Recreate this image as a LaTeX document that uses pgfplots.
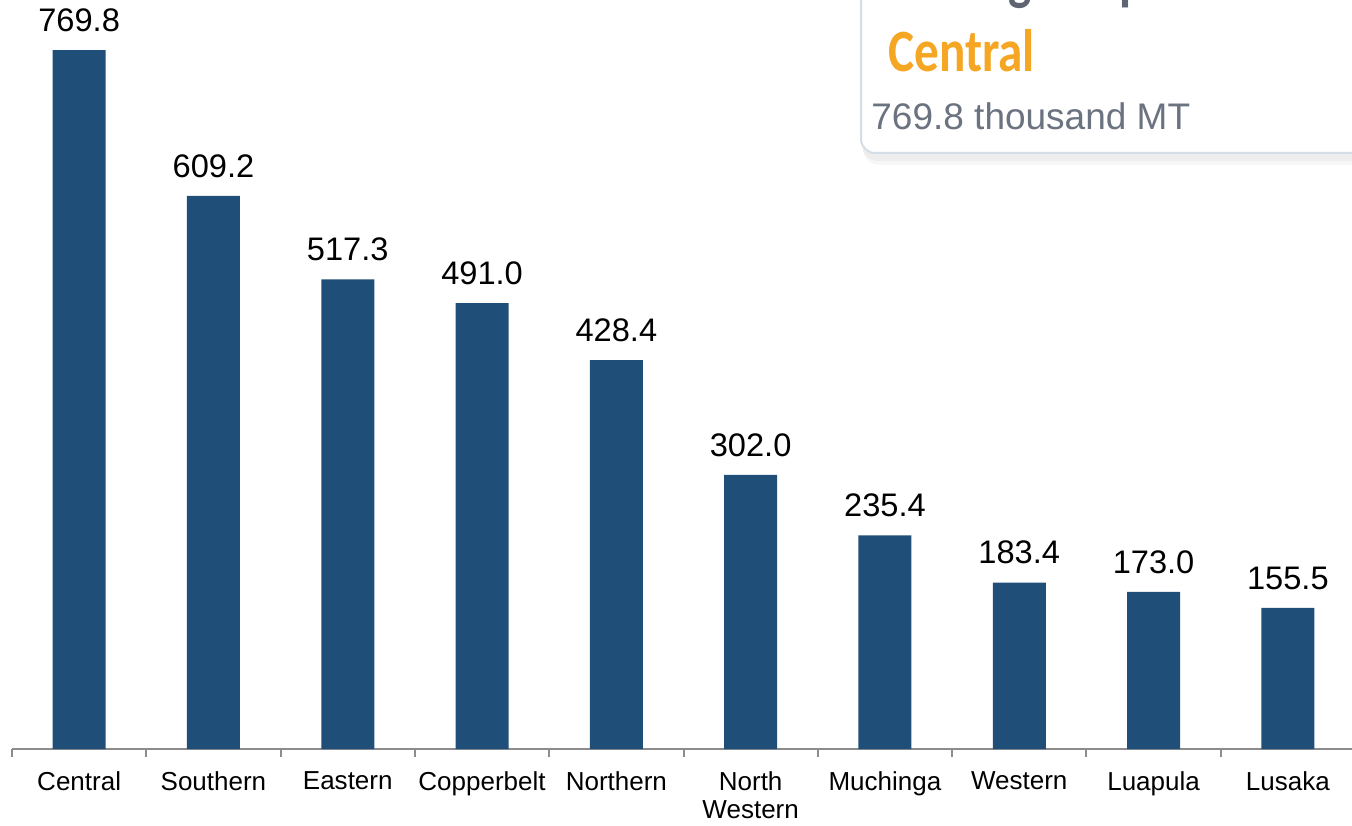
\documentclass[border=0pt]{standalone}
\usepackage{pgfplots}
\pgfplotsset{compat=1.18}
\usepackage{fontspec}
\setmainfont{Liberation Sans}
\newfontfamily\carlito{Carlito}

\definecolor{barblue}{HTML}{1F4E79}
\definecolor{axisgray}{HTML}{8C8C8C}
\definecolor{accent}{HTML}{F5A623}
\definecolor{cardtext}{HTML}{6B7280}
\definecolor{titlegray}{HTML}{5F6570}
\definecolor{cardborder}{HTML}{D5DDE8}

\begin{document}
\begin{tikzpicture}
\useasboundingbox (0,0) rectangle (676pt,412.5pt);
\clip (0,0) rectangle (676pt,412.5pt);
\begin{axis}[
  at={(6pt,38pt)}, anchor=south west,
  scale only axis, width=671.5pt, height=374.5pt,
  xmin=-0.5, xmax=9.5, ymin=0, ymax=825,
  axis x line=bottom, axis y line=none,
  x axis line style={-, draw=axisgray, line width=1pt},
  ybar, bar width=26.5pt,
  xtick={0,...,9},
  xticklabels={Central,Southern,Eastern,Copperbelt,Northern,{North\\Western},Muchinga,Western,Luapula,Lusaka},
  major x tick style={draw=none}, major tick length=0pt,
  minor xtick={-0.5,0.5,...,9.5},
  minor x tick style={draw=axisgray, line width=1pt},
  tick align=outside, minor tick length=4pt,
  xticklabel style={font=\fontsize{13}{14}\selectfont, align=center,
    text=black, inner sep=0pt, anchor=north, yshift=-11pt},
  nodes near coords,
  nodes near coords style={font=\fontsize{16.3}{17}\selectfont, text=black,
    inner sep=0pt, anchor=south, yshift=9pt,
    /pgf/number format/.cd, fixed, fixed zerofill, precision=1, assume math mode=true},
  clip=false,
]
\addplot[fill=barblue, draw=none] coordinates {
 (0,769.8) (1,609.2) (2,517.3) (3,491.0) (4,428.4)
 (5,302.0) (6,235.4) (7,183.4) (8,173.0) (9,155.5)
};
\end{axis}
\begin{scope}[x=0.5pt, y=0.5pt]
  % summary card, partly outside the picture
  \fill[black, opacity=0.03, rounded corners=8pt] (863,660) rectangle (1420,900);
  \fill[black, opacity=0.04, rounded corners=8pt] (862,664) rectangle (1420,900);
  \draw[cardborder, line width=1pt, fill=white, rounded corners=7pt] (861,672) rectangle (1420,900);
  \node[anchor=base west, inner sep=0pt, text=titlegray] at (873,826)
    {\scalebox{0.82}[1]{\fontsize{30}{30}\selectfont\carlito\bfseries Leading Output}};
  \node[anchor=base west, inner sep=0pt, text=accent] at (888,753)
    {\scalebox{0.82}[1]{\fontsize{30}{30}\selectfont\carlito\bfseries Central}};
  \node[anchor=base west, inner sep=0pt, text=cardtext] at (871,695)
    {\fontsize{18.5}{20}\selectfont 769.8 thousand MT};
\end{scope}
\end{tikzpicture}
\end{document}
